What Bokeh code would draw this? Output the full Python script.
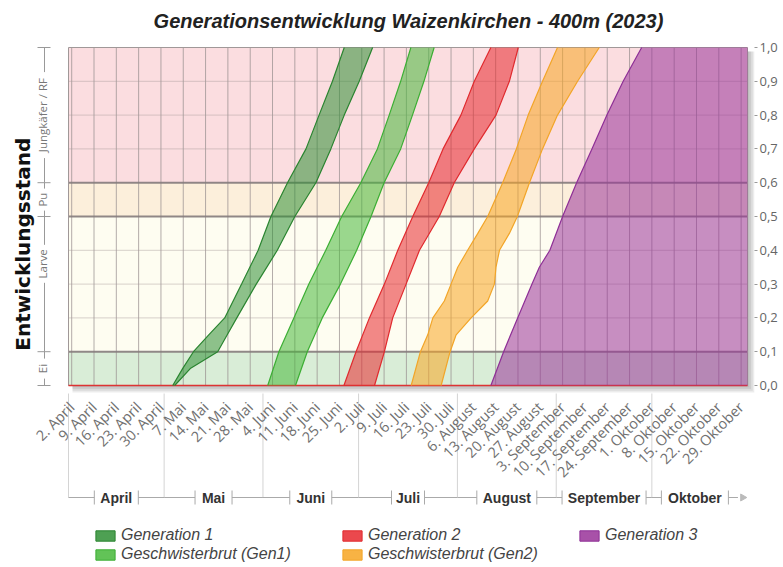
import math
from bokeh.plotting import figure
from bokeh.models import Range1d, FixedTicker, Legend, LegendItem
from bokeh.core.properties import value
from bokeh.embed import file_html
from bokeh.resources import INLINE

# ---------------- data ----------------
# x values are days after 1 April 2023
x_start, x_end = 0, 213

week_ticks = [1, 8, 15, 22, 29, 36, 43, 50, 57, 64, 71, 78, 85, 92, 99, 106, 113,
              120, 127, 134, 141, 148, 155, 162, 169, 176, 183, 190, 197, 204, 211]
week_labels = ["2. April", "9. April", "16. April", "23. April", "30. April",
               "7. Mai", "14. Mai", "21. Mai", "28. Mai",
               "4. Juni", "11. Juni", "18. Juni", "25. Juni",
               "2. Juli", "9. Juli", "16. Juli", "23. Juli", "30. Juli",
               "6. August", "13. August", "20. August", "27. August",
               "3. September", "10. September", "17. September", "24. September",
               "1. Oktober", "8. Oktober", "15. Oktober", "22. Oktober", "29. Oktober"]

month_names = ["April", "Mai", "Juni", "Juli", "August", "September", "Oktober"]
month_starts = [0, 30, 61, 91, 122, 153, 183]
month_ends = [30, 61, 91, 122, 153, 183, 210]

y_ticks = [0.0, 0.1, 0.2, 0.3, 0.4, 0.5, 0.6, 0.7, 0.8, 0.9, 1.0]
y_labels = ["0,0", "0,1", "0,2", "0,3", "0,4", "0,5", "0,6", "0,7", "0,8", "0,9", "1,0"]

stage_names = ["Ei", "Larve", "Pu", "Jungkäfer / RF"]
stage_bottom = [0.0, 0.1, 0.5, 0.6]
stage_top = [0.1, 0.5, 0.6, 1.0]
stage_label_at = [0.05, 0.36, 0.55, 0.8]

# development stage (0..1) reached: earliest / latest day after 1 April
gen1_levels = [0.0, 0.05, 0.1, 0.15, 0.2, 0.3, 0.4, 0.5, 0.6, 0.7, 0.8, 0.9, 1.0]
gen1_early = [32.7, 35.8, 39.2, 44.0, 49.0, 54.3, 59.5, 63.5, 68.7, 74.5, 78.6, 82.8, 86.5]
gen1_late = [33.3, 38.2, 46.8, 49.8, 52.8, 58.9, 65.5, 71.0, 77.6, 82.3, 86.5, 91.2, 95.4]

sib1_levels = [0.0, 0.1, 0.2, 0.3, 0.4, 0.5, 0.6, 0.7, 0.8, 0.9, 1.0]
sib1_early = [62.5, 66.0, 70.7, 75.4, 80.7, 85.7, 91.7, 96.9, 100.6, 104.2, 107.4]
sib1_late = [71.2, 74.9, 79.6, 85.3, 90.4, 94.9, 99.0, 104.2, 107.9, 111.5, 114.7]

gen2_levels = [0.0, 0.1, 0.2, 0.3, 0.4, 0.5, 0.6, 0.7, 0.8, 0.9, 1.0]
gen2_early = [86.4, 90.2, 94.4, 99.1, 103.3, 108.0, 113.0, 117.5, 123.1, 127.3, 132.5]
gen2_late = [96.0, 99.1, 101.7, 105.9, 110.1, 116.3, 121.0, 127.3, 134.1, 138.3, 141.1]

sib2_levels = [0.0, 0.1, 0.15, 0.2, 0.25, 0.3, 0.35, 0.4, 0.45, 0.5, 0.6, 0.7, 0.8, 0.9, 1.0]
sib2_early = [107.5, 110.4, 112.7, 114.3, 117.9, 120.0, 122.1, 125.2, 128.4, 131.5,
              136.2, 140.5, 144.2, 148.7, 153.4]
sib2_late = [116.9, 119.7, 121.6, 126.3, 131.5, 133.6, 134.1, 135.2, 138.3, 140.8,
             144.6, 148.7, 153.4, 159.7, 166.5]

gen3_levels = [0.0, 0.1, 0.2, 0.3, 0.35, 0.4, 0.5, 0.6, 0.7, 0.8, 0.9, 1.0]
gen3_early = [132.5, 136.5, 140.9, 145.4, 147.7, 151.0, 155.0, 159.4, 164.2, 168.9, 174.0, 179.8]

series_names = ["Generation 1", "Geschwisterbrut (Gen1)", "Generation 2",
                "Geschwisterbrut (Gen2)", "Generation 3"]
title_text = "Generationsentwicklung Waizenkirchen - 400m (2023)"

# ---------------- styles / layout ----------------
stage_colors = ["#d9edd7", "#fefdf1", "#fcefdb", "#fbdde0"]
fills = ["#2f8f35", "#47b83a", "#e8282e", "#f7a623", "#993399"]
edges = ["#2a8430", "#3cae34", "#e02a2e", "#f2a528", "#8e2f96"]

W, H = 783, 567
CH_L, CH_R, CH_T, CH_B = 68, 747, 47, 385      # chart area in pixels
SHADOW = 7
RIGHT_BORDER = 29
px_day = (CH_R - CH_L) / (x_end - x_start)
px_unit = CH_B - CH_T


def X(sx):
    return x_start + (sx - CH_L) / px_day


def Y(sy):
    return (CH_B - sy) / px_unit


p = figure(width=W, height=H,
           x_range=Range1d(X(0), X(W - RIGHT_BORDER)), y_range=Range1d(Y(H), Y(0)),
           output_backend="svg", toolbar_location=None,
           x_axis_location=None, y_axis_location="right",
           min_border_left=0, min_border_right=RIGHT_BORDER, min_border_top=0,
           min_border_bottom=0)
p.outline_line_color = None
p.background_fill_color = "white"
p.grid.visible = False

# title
p.text(x=[X(408)], y=[Y(20)], text=[title_text], text_align="center", text_baseline="middle",
       text_font=value("Liberation Sans"), text_font_style="bold italic",
       text_font_size="20px", text_color="#222222")

# drop shadow
for k in range(1, 5):
    o = k * SHADOW / 4
    p.quad(left=x_start + 4 / px_day, right=x_end + o / px_day, bottom=-o / px_unit,
           top=1 - 4 / px_unit, fill_color="#6e6e6e", fill_alpha=0.13, line_color=None)
# stage zones
p.quad(left=x_start, right=x_end, bottom=stage_bottom, top=stage_top,
       fill_color=stage_colors, line_color=None)

# grid
p.segment(x0=week_ticks, x1=week_ticks, y0=0, y1=1, line_color="#9a9090",
          line_alpha=0.75, line_width=1)
minor_y = [0.2, 0.3, 0.4, 0.7, 0.8, 0.9]
p.segment(x0=x_start, x1=x_end, y0=minor_y, y1=minor_y, line_color="#a89a9a",
          line_alpha=0.45, line_width=1)
p.segment(x0=x_start, x1=x_end, y0=[0.1, 0.5, 0.6], y1=[0.1, 0.5, 0.6],
          line_color="#857c7c", line_alpha=0.9, line_width=2)
p.quad(left=x_start, right=x_end, bottom=0, top=1, fill_color=None,
       line_color="#a09898", line_width=1)
p.segment(x0=x_start, x1=x_end, y0=0, y1=0, line_color="#dd3333", line_width=1.5)

# generation bands
band_data = [(gen1_levels, gen1_early, gen1_late),
             (sib1_levels, sib1_early, sib1_late),
             (gen2_levels, gen2_early, gen2_late),
             (sib2_levels, sib2_early, sib2_late),
             (gen3_levels, gen3_early, [x_end] * len(gen3_levels))]
for i, (lv, e, l) in enumerate(band_data):
    p.harea(x1=e, x2=l, y=lv, fill_color=fills[i], fill_alpha=0.55)
    p.line(e, lv, line_color=edges[i], line_width=1.2)
    if i < 4:
        p.line(l, lv, line_color=edges[i], line_width=1.2)

# left: stage scale
p.text(x=[X(22)], y=[0.418], text=["Entwicklungsstand"], angle=math.pi / 2,
       text_align="center", text_baseline="middle", text_font=value("DejaVu Sans"),
       text_font_style="bold", text_font_size="20px", text_color="#111111")
p.text(x=X(42), y=stage_label_at, text=stage_names, angle=math.pi / 2,
       text_align="center", text_baseline="middle", text_font=value("Open Sans"),
       text_font_size="11.5px", text_color="#777777")
label_px = [12, 30, 14, 78]
y0s, y1s = [], []
for lo, hi, c, w in zip(stage_bottom, stage_top, stage_label_at, label_px):
    half = (w / 2 + 4) / px_unit
    if c - half > lo:
        y0s.append(lo); y1s.append(c - half)
    if c + half < hi:
        y0s.append(c + half); y1s.append(hi)
p.segment(x0=X(44), x1=X(44), y0=y0s, y1=y1s, line_color="#999999", line_width=1)
bounds = [0.0, 0.1, 0.5, 0.6, 1.0]
p.segment(x0=X(37), x1=X(50), y0=bounds, y1=bounds, line_color="#999999", line_width=1)

# right axis
ya = p.yaxis[0]
ya.ticker = FixedTicker(ticks=y_ticks)
ya.major_label_overrides = dict(zip(y_ticks, y_labels))
ya.major_label_text_font = "Open Sans"
ya.major_label_text_font_size = "13px"
ya.major_label_text_color = "#666666"
ya.major_label_standoff = 2
ya.axis_line_color = None
ya.major_tick_line_color = "#999999"
ya.major_tick_out = 3
ya.major_tick_in = 0
ya.minor_tick_line_color = None

# month separators (behind the week labels)
band_y = Y(497)
p.segment(x0=month_starts, x1=month_starts, y0=Y(393), y1=band_y,
          line_color="#d4d4d4", line_width=1)

# week labels (date axis)
p.text(x=week_ticks, y=Y(404), text=week_labels, angle=math.pi / 4,
       text_align="right", text_baseline="middle", text_font=value("Open Sans"),
       text_font_size="14.5px", text_color="#707070")

# month band
label_w = [32, 25, 30, 21, 48, 72, 55]
hx0, hx1, tx = [], [], []
for s, e, w in zip(month_starts, month_ends, label_w):
    c = (s + e) / 2
    a = c - (w / 2 + 6) / px_day
    b = c + (w / 2 + 6) / px_day
    hx0 += [s, b]; hx1 += [a, e]; tx += [a, b]
p.segment(x0=hx0, x1=hx1, y0=band_y, y1=band_y, line_color="#aaaaaa", line_width=1)
p.segment(x0=tx, x1=tx, y0=band_y - 7 / px_unit, y1=band_y + 7 / px_unit,
          line_color="#aaaaaa", line_width=1)
p.text(x=[(s + e) / 2 for s, e in zip(month_starts, month_ends)], y=band_y, text=month_names,
       text_align="center", text_baseline="middle",
       text_font=value("Liberation Sans"), text_font_style="bold",
       text_font_size="14px", text_color="#333333")
p.scatter(x=[month_ends[-1] + 1.5], y=[band_y], marker="triangle", angle=-math.pi / 2,
          size=7, fill_color="#bbbbbb", line_color="#bbbbbb")

# legend
dummy = []
for i in range(5):
    dummy.append(p.quad(left=[-80], right=[-70], bottom=[0], top=[1],
                        fill_color=fills[i], fill_alpha=0.85, line_color=edges[i]))
locs = [(93, 23), (93, 4), (340, 23), (340, 4), (577, 23)]
for i in range(5):
    lg = Legend(items=[LegendItem(label=series_names[i], renderers=[dummy[i]])],
                location=locs[i], orientation="horizontal",
                background_fill_alpha=0, border_line_alpha=0, padding=0, margin=0,
                glyph_width=24, glyph_height=13, label_standoff=4,
                label_text_font="Liberation Sans", label_text_font_style="italic",
                label_text_font_size="16px", label_text_color="#444444")
    p.add_layout(lg)

open("out.html", "w").write(file_html(p, INLINE))
